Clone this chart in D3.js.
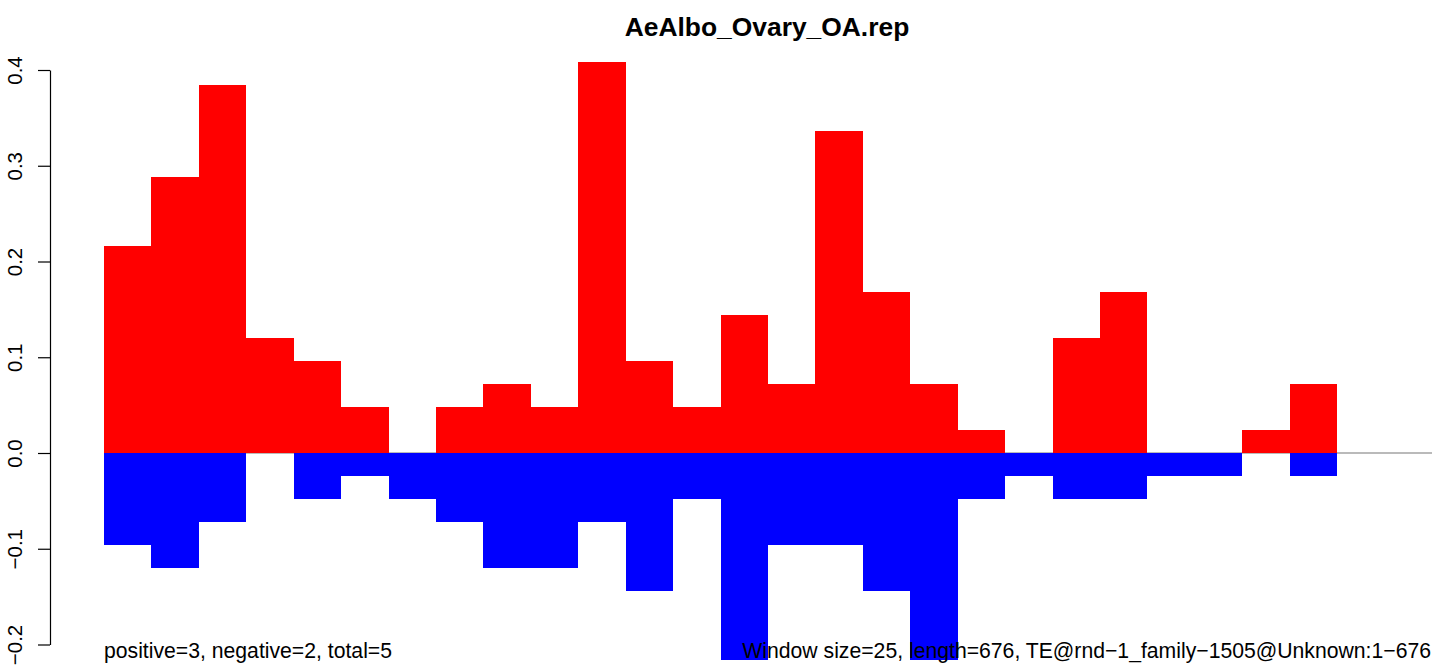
<!DOCTYPE html>
<html>
<head>
<meta charset="utf-8">
<script src="https://cdn.jsdelivr.net/npm/d3@7"></script>
<style>
  html, body { margin: 0; padding: 0; background: #fff; }
  svg { display: block; font-family: "Liberation Sans", Arial, Helvetica, sans-serif; }
</style>
</head>
<body>
<svg id="chart" width="1439" height="666"></svg>
<script>
// ---- Data ----
const title = "AeAlbo_Ovary_OA.rep";
const windowSize = 25;
// window start positions (bp)
const windowStarts = [0, 25, 50, 75, 100, 125, 150, 175, 200, 225, 250, 275, 300,
                      325, 350, 375, 400, 425, 450, 475, 500, 525, 550, 575, 600, 625];
// positive (red) values per window
const positiveValues = [0.216, 0.288, 0.384, 0.120, 0.096, 0.048, 0.000, 0.048, 0.072, 0.048,
                        0.408, 0.096, 0.048, 0.144, 0.072, 0.336, 0.168, 0.072, 0.024, 0.000,
                        0.120, 0.168, 0.000, 0.000, 0.024, 0.072];
// negative (blue) values per window
const negativeValues = [-0.096, -0.120, -0.072, 0.000, -0.048, -0.024, -0.048, -0.072, -0.120, -0.120,
                        -0.072, -0.144, -0.048, -0.216, -0.096, -0.096, -0.144, -0.216, -0.048, -0.024,
                        -0.048, -0.048, -0.024, -0.024, 0.000, -0.024];
const baselineExtent = [0, 700];
const yTicks = [-0.2, -0.1, 0.0, 0.1, 0.2, 0.3, 0.4];
const leftNote = "positive=3, negative=2, total=5";
const rightNote = "Window size=25, length=676, TE@rnd\u22121_family\u22121505@Unknown:1\u2212676";

// ---- Scales ----
const svg = d3.select("#chart");
const x = d3.scaleLinear().domain(baselineExtent).range([104, 1432]);
const y = d3.scaleLinear().domain([-0.2, 0.4]).range([644.5, 70]);

// zero line
svg.append("line")
  .attr("x1", x(baselineExtent[0])).attr("x2", x(baselineExtent[1]))
  .attr("y1", y(0)).attr("y2", y(0))
  .attr("stroke", "#777").attr("stroke-width", 1.2);

const rows = windowStarts.map((s, i) => ({ s, pos: positiveValues[i], neg: negativeValues[i] }));

svg.append("g").selectAll("rect.pos")
  .data(rows.filter(d => d.pos > 0)).join("rect")
  .attr("x", d => x(d.s))
  .attr("width", d => x(d.s + windowSize) - x(d.s))
  .attr("y", d => y(d.pos))
  .attr("height", d => y(0) - y(d.pos))
  .attr("fill", "#FF0000")
  .attr("shape-rendering", "crispEdges");

svg.append("g").selectAll("rect.neg")
  .data(rows.filter(d => d.neg < 0)).join("rect")
  .attr("x", d => x(d.s))
  .attr("width", d => x(d.s + windowSize) - x(d.s))
  .attr("y", y(0))
  .attr("height", d => y(d.neg) - y(0))
  .attr("fill", "#0000FF")
  .attr("shape-rendering", "crispEdges");

// y axis
const yAxis = d3.axisLeft(y).tickValues(yTicks).tickSize(12).tickSizeOuter(0)
  .tickFormat(d3.format(".1f"));
const ga = svg.append("g").attr("transform", "translate(50,0)").call(yAxis);
ga.select(".domain").attr("stroke", "#000").attr("stroke-width", 1.2);
ga.selectAll(".tick line").attr("stroke", "#000").attr("stroke-width", 1.2);
ga.selectAll(".tick text")
  .attr("x", null).attr("dy", null)
  .attr("text-anchor", "middle")
  .attr("transform", "translate(-28,0) rotate(-90)")
  .attr("fill", "#000")
  .style("font-size", "20.5px")
  .style("font-family", "'Liberation Sans', Arial, sans-serif");

// title
svg.append("text")
  .attr("x", 767).attr("y", 36)
  .attr("text-anchor", "middle")
  .style("font-weight", "bold").style("font-size", "26.4px")
  .text(title);

// bottom notes
svg.append("text")
  .attr("x", 104).attr("y", 658)
  .style("font-size", "21.2px")
  .text(leftNote);
svg.append("text")
  .attr("x", 1431).attr("y", 658)
  .attr("text-anchor", "end")
  .style("font-size", "21.2px")
  .text(rightNote);
</script>
</body>
</html>
